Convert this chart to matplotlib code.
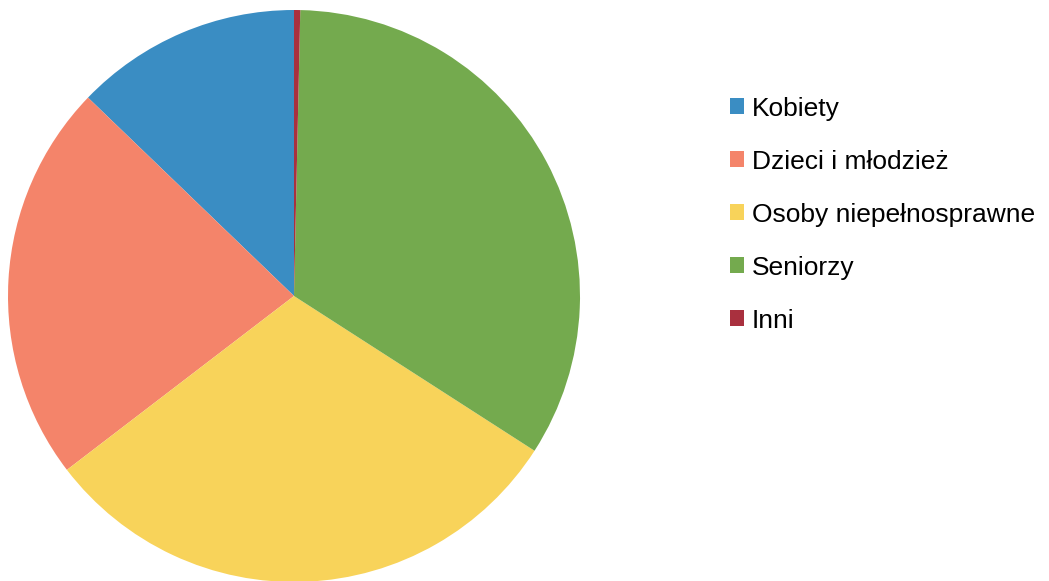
import matplotlib
matplotlib.use('Agg')
import matplotlib.pyplot as plt
from matplotlib.patches import Patch

plt.rcParams['font.family'] = ['Liberation Sans', 'DejaVu Sans']

# udział grup (w procentach)
labels = ['Kobiety', 'Dzieci i młodzież', 'Osoby niepełnosprawne', 'Seniorzy', 'Inni']
values = [12.8, 22.6, 30.5, 33.75, 0.35]
colors = ['#3a8dc3', '#f4846a', '#f8d35a', '#74aa4e', '#a9303e']

fig = plt.figure(figsize=(10.49, 5.81), dpi=100)
ax = fig.add_axes([8 / 1049, -1 / 581, 572 / 1049, 572 / 581])
ax.pie(values, colors=colors, startangle=90, counterclock=True,
       radius=1, wedgeprops={'linewidth': 0})
ax.set_xlim(-1, 1)
ax.set_ylim(-1, 1)
ax.set_aspect('equal')
ax.axis('off')

handles = [Patch(facecolor=c, edgecolor='none') for c in colors]
fig.legend(handles, labels, loc='upper left', bbox_to_anchor=(719 / 1049, 1 - 86 / 581),
           frameon=False, fontsize=19, handlelength=0.55, handleheight=0.55,
           handletextpad=0.3, labelspacing=1.1, borderaxespad=0)

fig.savefig('out.png', dpi=100)
